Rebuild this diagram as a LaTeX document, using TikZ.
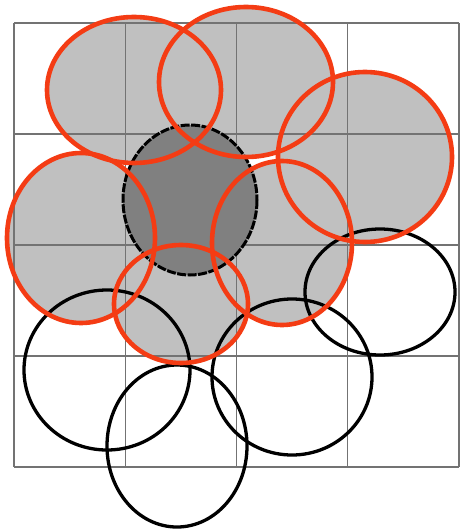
\documentclass[tikz,border=0pt]{standalone}
\begin{document}
\begin{tikzpicture}[x=1pt,y=-1pt,
  gridline/.style={draw=gray!90!black,line width=1.2pt},
  redring/.style={draw=redc,line width=4.6pt},
  lightfill/.style={fill=lightg},
  blackring/.style={draw=black,line width=3.3pt},
  darkdisc/.style={fill=darkg,draw=black,line width=3pt,dash pattern=on 9pt off 1.5pt}]
\definecolor{redc}{RGB}{244,60,20}
\definecolor{lightg}{RGB}{192,192,192}
\definecolor{darkg}{RGB}{128,128,128}
\useasboundingbox (0,0) rectangle (460,532);
\fill[white] (0,0) rectangle (460,532);
% red-circle fills
\foreach \cx/\cy/\rx/\ry in {134/90/87/73, 246/82/87/75, 365/157/87/85, 81/238/74/85, 282/243/70/82, 181/304/67/59}{
  \fill[lightfill] (\cx,\cy) ellipse [x radius=\rx, y radius=\ry];
}
% grid
\foreach \i in {0,1,2,3,4}{
  \draw[gridline] ({14+111.25*\i},23) -- ({14+111.25*\i},467);
  \draw[gridline] (14,{23+111*\i}) -- (459,{23+111*\i});
}
% dark dashed disc
\path[darkdisc] (190,200) ellipse [x radius=67, y radius=75];
% black rings
\foreach \cx/\cy/\rx/\ry in {107/370/83/80, 177/446/70/81, 292/377/80/78, 380/292/75/63}{
  \draw[blackring] (\cx,\cy) ellipse [x radius=\rx, y radius=\ry];
}
% red rings
\foreach \cx/\cy/\rx/\ry in {134/90/87/73, 246/82/87/75, 365/157/87/85, 81/238/74/85, 282/243/70/82, 181/304/67/59}{
  \draw[redring] (\cx,\cy) ellipse [x radius=\rx, y radius=\ry];
}
\end{tikzpicture}
\end{document}
